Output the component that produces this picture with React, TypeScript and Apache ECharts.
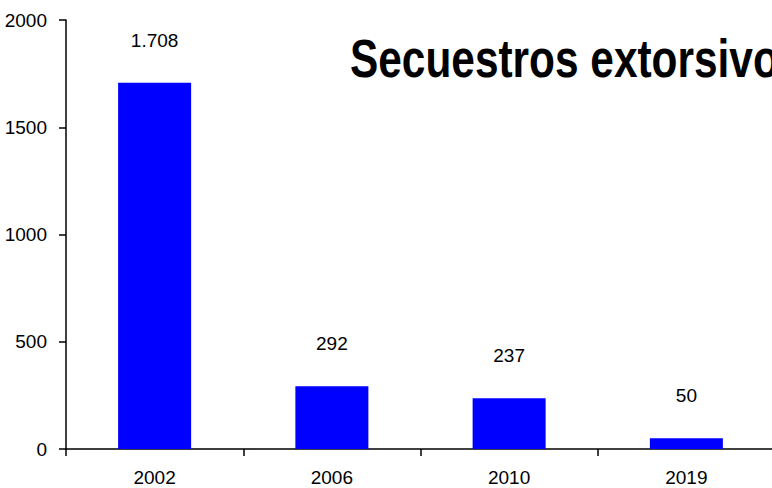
import React, { useEffect, useRef } from "react";
import * as echarts from "echarts";

const categories = ["2002", "2006", "2010", "2019"];
const values = [1708, 292, 237, 50];
const valueLabels = ["1.708", "292", "237", "50"];
const yTicks = [0, 500, 1000, 1500, 2000];
const titleText = "Secuestros extorsivos";

export default function App() {
  const ref = useRef<HTMLDivElement>(null);
  useEffect(() => {
    document.body.style.margin = "0";
    const chart = echarts.init(ref.current!, null, { renderer: "svg" });
    chart.setOption({
      animation: false,
      backgroundColor: "#ffffff",
      textStyle: { fontFamily: "Liberation Sans, Arial, sans-serif" },
      grid: { left: 66, right: 1, top: 20, bottom: 39, containLabel: false },
      graphic: [
        {
          type: "text",
          x: 350,
          y: 59,
          scaleX: 0.8,
          style: {
            text: titleText,
            font: "bold 53px 'Liberation Sans', Arial, sans-serif",
            fill: "#000",
            verticalAlign: "middle",
            align: "left",
          },
        },
      ],
      xAxis: {
        type: "category",
        data: categories,
        axisLine: { lineStyle: { color: "#000", width: 1.5 } },
        axisTick: { show: true, length: 7, lineStyle: { color: "#000", width: 1.5 } },
        axisLabel: { color: "#000", fontSize: 19, margin: 19 },
      },
      yAxis: {
        type: "value",
        min: yTicks[0],
        max: yTicks[yTicks.length - 1],
        interval: 500,
        splitLine: { show: false },
        axisLine: { show: true, lineStyle: { color: "#000", width: 1.5 } },
        axisTick: { show: true, length: 7, lineStyle: { color: "#000", width: 1.5 } },
        axisLabel: { color: "#000", fontSize: 19, margin: 19, formatter: (v: number) => String(v) },
      },
      series: [
        {
          type: "bar",
          data: values,
          barWidth: 73,
          itemStyle: { color: "#0000ff" },
          label: {
            show: true,
            position: "top",
            distance: 33,
            color: "#000",
            fontSize: 19,
            formatter: (p: any) => valueLabels[p.dataIndex],
          },
        },
      ],
    });
    return () => chart.dispose();
  }, []);
  return (
    <div style={{ position: "fixed", left: 0, top: 0, width: 772, height: 488, overflow: "hidden" }}>
      <div ref={ref} style={{ width: 776, height: 488 }} />
    </div>
  );
}
